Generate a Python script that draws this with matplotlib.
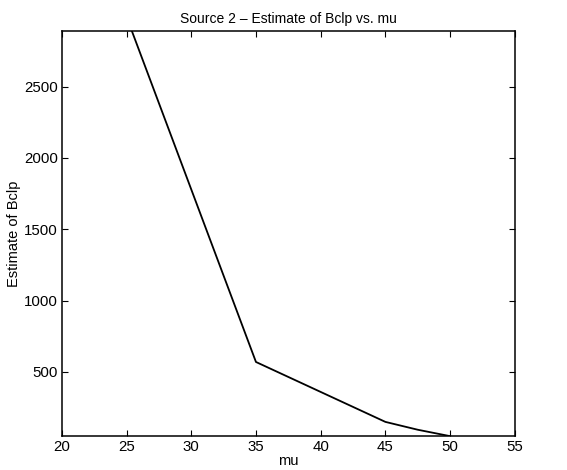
import matplotlib
matplotlib.use("Agg")
import matplotlib.pyplot as plt

# values
mu = [25, 35, 45, 47.5, 50]
bclp = [2990, 570, 150, 95, 50]
x_ticks = [20, 25, 30, 35, 40, 45, 50, 55]
y_ticks = [500, 1000, 1500, 2000, 2500]

plt.rcParams["font.family"] = ["Liberation Sans", "DejaVu Sans"]
plt.rcParams["font.size"] = 10

fig = plt.figure(figsize=(5.67, 4.70), dpi=100)
ax = fig.add_axes([0.109, 0.072, 0.799, 0.862])

ax.plot(mu, bclp, c="black", lw=1.3)

ax.set_xlim(20, 55)
ax.set_ylim(50, 2890)
ax.set_xticks(x_ticks)
ax.set_yticks(y_ticks)
ax.tick_params(direction="in", top=True, right=True, length=4, width=0.8,
               labelsize=10.8, pad=3)
for s in ax.spines.values():
    s.set_linewidth(1.1)

ax.set_xlabel("mu", fontsize=10.5, labelpad=0)
ax.set_ylabel("Estimate of Bclp", fontsize=10.5, labelpad=2)
ax.set_title("Source 2 \u2013 Estimate of Bclp vs. mu", fontsize=10, pad=6)

fig.savefig("out.png", dpi=100)
